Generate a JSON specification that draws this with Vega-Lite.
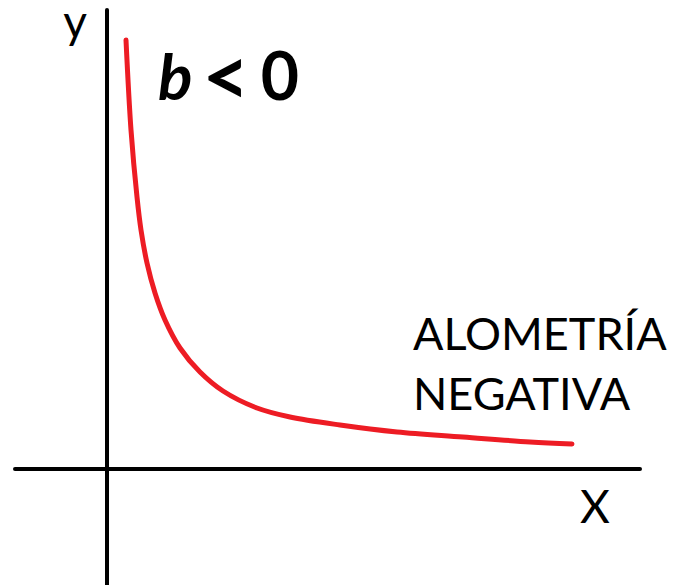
{
  "$schema": "https://vega.github.io/schema/vega-lite/v6.json",
  "width": 683,
  "height": 585,
  "padding": 0,
  "autosize": "none",
  "config": {"view": {"stroke": null}},
  "datasets": {
    "curve": [
      {"x": 19, "y": 429}, {"x": 24, "y": 339}, {"x": 30, "y": 272}, {"x": 34, "y": 239},
      {"x": 40, "y": 206}, {"x": 48, "y": 176}, {"x": 58, "y": 149}, {"x": 73, "y": 121},
      {"x": 93, "y": 97}, {"x": 116, "y": 78}, {"x": 150, "y": 61}, {"x": 183, "y": 52},
      {"x": 233, "y": 44}, {"x": 290, "y": 37}, {"x": 356, "y": 32}, {"x": 423, "y": 27},
      {"x": 465, "y": 25}
    ],
    "axes": [
      {"x1": 0, "x2": 0, "y1": -120, "y2": 459},
      {"x1": -92, "x2": 533, "y1": 0, "y2": 0}
    ]
  },
  "layer": [
    {
      "data": {"name": "axes"},
      "mark": {"type": "rule", "color": "black", "strokeWidth": 4, "strokeCap": "round"},
      "encoding": {
        "x": {"field": "x1", "type": "quantitative", "scale": {"domain": [-107, 576], "nice": false, "zero": false}, "axis": null},
        "x2": {"field": "x2"},
        "y": {"field": "y1", "type": "quantitative", "scale": {"domain": [-116, 469], "nice": false, "zero": false}, "axis": null},
        "y2": {"field": "y2"}
      }
    },
    {
      "data": {"name": "curve"},
      "mark": {"type": "line", "color": "#ED1C24", "strokeWidth": 5, "interpolate": "catmull-rom", "strokeCap": "round"},
      "encoding": {
        "x": {"field": "x", "type": "quantitative"},
        "y": {"field": "y", "type": "quantitative"}
      }
    },
    {
      "data": {"values": [{"x": -32, "y": 431, "t": "y"}, {"x": 488, "y": -54, "t": "X"}]},
      "mark": {"type": "text", "font": "Lato", "fontSize": 46, "align": "center", "baseline": "alphabetic", "color": "black"},
      "encoding": {
        "x": {"field": "x", "type": "quantitative"},
        "y": {"field": "y", "type": "quantitative"},
        "text": {"field": "t"}
      }
    },
    {
      "data": {"values": [{"x": 306, "y": 119, "t": "ALOMETRÍA"}, {"x": 306, "y": 59, "t": "NEGATIVA"}]},
      "mark": {"type": "text", "font": "Lato", "fontSize": 45, "align": "left", "baseline": "alphabetic", "color": "black"},
      "encoding": {
        "x": {"field": "x", "type": "quantitative"},
        "y": {"field": "y", "type": "quantitative"},
        "text": {"field": "t"}
      }
    },
    {
      "data": {"values": [{"x": 51, "y": 369, "t": "b"}]},
      "mark": {"type": "text", "font": "Lato", "fontSize": 64, "fontWeight": "bold", "fontStyle": "italic", "align": "left", "baseline": "alphabetic", "color": "black"},
      "encoding": {
        "x": {"field": "x", "type": "quantitative"},
        "y": {"field": "y", "type": "quantitative"},
        "text": {"field": "t"}
      }
    },
    {
      "data": {"values": [{"x": 119, "y": 363, "t": "<"}]},
      "mark": {"type": "text", "font": "Lato", "fontSize": 82, "fontWeight": "bold", "align": "center", "baseline": "alphabetic", "color": "black"},
      "encoding": {
        "x": {"field": "x", "type": "quantitative"},
        "y": {"field": "y", "type": "quantitative"},
        "text": {"field": "t"}
      }
    },
    {
      "data": {"values": [{"x": 173, "y": 369, "t": "0"}]},
      "mark": {"type": "text", "font": "Lato", "fontSize": 66, "fontWeight": "bold", "align": "center", "baseline": "alphabetic", "color": "black"},
      "encoding": {
        "x": {"field": "x", "type": "quantitative"},
        "y": {"field": "y", "type": "quantitative"},
        "text": {"field": "t"}
      }
    }
  ]
}
